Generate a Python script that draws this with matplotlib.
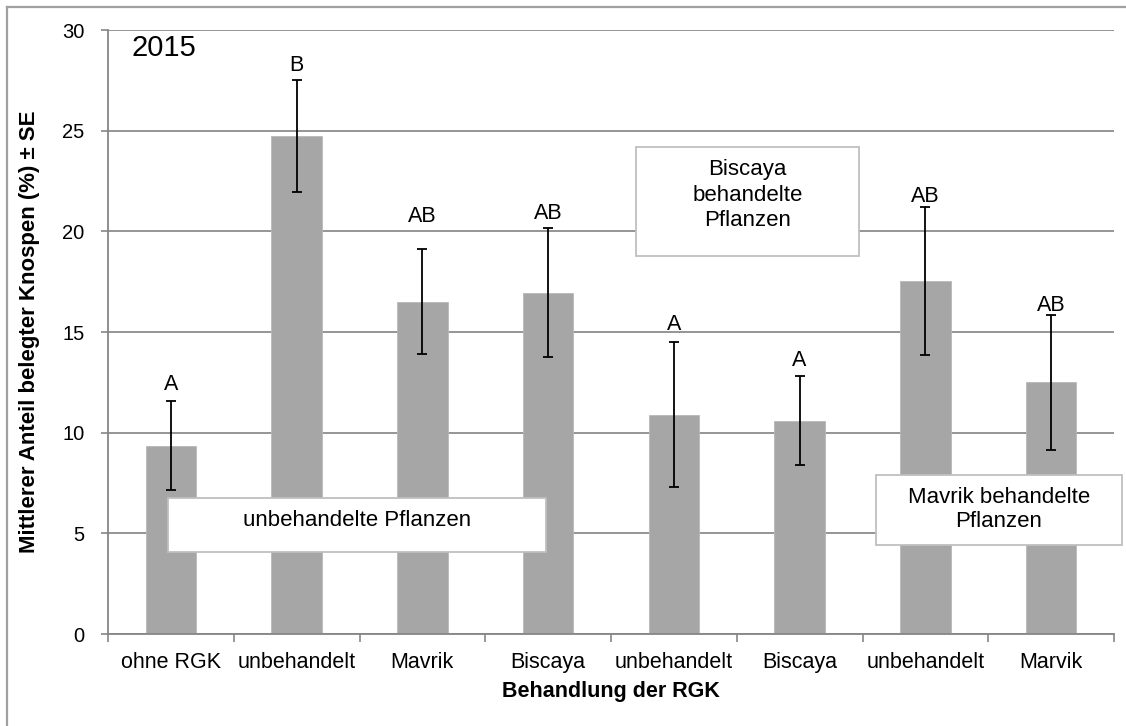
import matplotlib
matplotlib.use("Agg")
import matplotlib.pyplot as plt
from matplotlib.patches import Rectangle
from matplotlib.lines import Line2D
import numpy as np

plt.rcParams['font.family'] = ['Liberation Sans', 'DejaVu Sans']

categories = ["ohne RGK", "unbehandelt", "Mavrik", "Biscaya", "unbehandelt",
              "Biscaya", "unbehandelt", "Marvik"]
means = [9.35, 24.75, 16.5, 16.95, 10.9, 10.6, 17.55, 12.5]
se = [2.2, 2.78, 2.6, 3.2, 3.6, 2.2, 3.68, 3.34]
letters = ["A", "B", "AB", "AB", "A", "A", "AB", "AB"]
letter_offsets = [5, 3, 16, 3, 5, 4, 0, -1]  # points above error top

W, H = 1126, 726
fig = plt.figure(figsize=(W / 100, H / 100), dpi=100)
ax = fig.add_axes([108 / W, (H - 634) / H, 1006 / W, 604 / H])

x = np.arange(len(categories))
ax.bar(x, means, width=0.4, color="#a6a6a6", edgecolor="#b8b8b8", linewidth=0.6, zorder=2)
ax.errorbar(x, means, yerr=se, fmt="none", ecolor="black", elinewidth=1.3,
            capsize=3.3, capthick=1.3, zorder=3)

for xi, m, s, lab, off in zip(x, means, se, letters, letter_offsets):
    ax.annotate(lab, (xi, m + s), xytext=(0, off), textcoords="offset points",
                ha="center", va="bottom", fontsize=15.5, zorder=4)

ax.set_xlim(-0.5, len(categories) - 0.5)
ax.set_ylim(0, 30)
ax.set_yticks(np.arange(0, 31, 5))
ax.set_xticks(x)
ax.set_xticklabels(categories, fontsize=15.5)
ax.set_xticks(np.arange(-0.5, len(categories)), minor=True)
ax.tick_params(axis="x", which="major", length=0, pad=13)
ax.tick_params(axis="x", which="minor", length=6, color="#868686", width=1.2)
ax.tick_params(axis="y", labelsize=14.5, length=5, color="#868686", width=1.2, pad=12)
ax.grid(axis="y", color="#8c8c8c", linewidth=1.3, zorder=0)
ax.set_axisbelow(True)
for sp in ["top", "right"]:
    ax.spines[sp].set_visible(False)
for sp in ["left", "bottom"]:
    ax.spines[sp].set_color("#868686")
    ax.spines[sp].set_linewidth(1.3)

ax.set_ylabel("Mittlerer Anteil belegter Knospen (%) ± SE", fontsize=16, fontweight="bold")
ax.yaxis.set_label_coords(-0.068, 0.5)
ax.set_xlabel("Behandlung der RGK", fontsize=15.5, fontweight="bold")
ax.xaxis.set_label_coords(0.5, -0.078)

ax.text(-0.055, 29.1, "2015", fontsize=21, ha="center", va="center")

box_kw = dict(facecolor="white", edgecolor="#bfbfbf", linewidth=1.3, clip_on=False, zorder=5)
ax.add_patch(Rectangle((-0.023, 4.07), 3.006, 2.69, **box_kw))
ax.text(1.48, 5.65, "unbehandelte Pflanzen", fontsize=16, ha="center", va="center", zorder=6)

ax.add_patch(Rectangle((3.699, 18.78), 1.773, 5.41, **box_kw))
ax.text(4.585, 23.6, "Biscaya\nbehandelte\nPflanzen", fontsize=16, ha="center", va="top",
        linespacing=1.3, zorder=6)

ax.add_patch(Rectangle((5.607, 4.42), 1.957, 3.48, **box_kw))
ax.text(6.585, 6.2, "Mavrik behandelte\nPflanzen", fontsize=16, ha="center", va="center",
        linespacing=1.2, zorder=6)

# outer chart border (top and left visible)
fig.add_artist(Line2D([7 / W, 1.0], [1 - 6.5 / H, 1 - 6.5 / H], transform=fig.transFigure,
                      color="#a0a0a0", linewidth=1.6))
fig.add_artist(Line2D([7 / W, 7 / W], [0, 1 - 6.5 / H], transform=fig.transFigure,
                      color="#a0a0a0", linewidth=1.6))

fig.savefig("out.png", dpi=100, facecolor="white")
